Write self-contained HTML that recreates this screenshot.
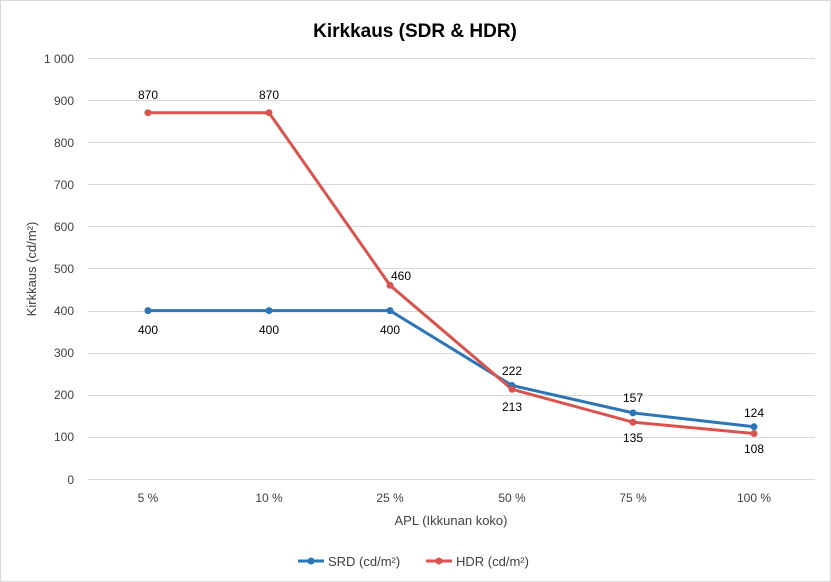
<!DOCTYPE html>
<html><head><meta charset="utf-8"><style>
html,body{margin:0;padding:0;background:#fff;}
svg{display:block;font-family:"Liberation Sans",sans-serif;}
</style></head><body>
<svg width="831" height="582" viewBox="0 0 831 582" xmlns="http://www.w3.org/2000/svg">
<rect x="0.5" y="0.5" width="830" height="581" fill="#fff" stroke="#d9d9d9"/>
<text x="415" y="37" text-anchor="middle" font-size="19" font-weight="bold" fill="#000">Kirkkaus (SDR &amp; HDR)</text>
<g stroke="#d9d9d9" stroke-width="1">
<line x1="88" x2="815" y1="58.5" y2="58.5"/>
<line x1="88" x2="815" y1="100.5" y2="100.5"/>
<line x1="88" x2="815" y1="142.5" y2="142.5"/>
<line x1="88" x2="815" y1="184.5" y2="184.5"/>
<line x1="88" x2="815" y1="226.5" y2="226.5"/>
<line x1="88" x2="815" y1="268.5" y2="268.5"/>
<line x1="88" x2="815" y1="311.5" y2="311.5"/>
<line x1="88" x2="815" y1="353.5" y2="353.5"/>
<line x1="88" x2="815" y1="395.5" y2="395.5"/>
<line x1="88" x2="815" y1="437.5" y2="437.5"/>
<line x1="88" x2="815" y1="479.5" y2="479.5"/>
</g>
<g font-size="12" fill="#404040" text-anchor="end">
<text x="74" y="63">1 000</text><text x="74" y="105">900</text><text x="74" y="147">800</text>
<text x="74" y="189">700</text><text x="74" y="231">600</text><text x="74" y="273">500</text>
<text x="74" y="315">400</text><text x="74" y="357">300</text><text x="74" y="399">200</text>
<text x="74" y="441">100</text><text x="74" y="484">0</text>
</g>
<g font-size="12" fill="#404040" text-anchor="middle">
<text x="148" y="502">5 %</text><text x="269" y="502">10 %</text><text x="390" y="502">25 %</text>
<text x="512" y="502">50 %</text><text x="633" y="502">75 %</text><text x="754" y="502">100 %</text>
</g>
<text x="451" y="525" text-anchor="middle" font-size="13" fill="#404040">APL (Ikkunan koko)</text>
<text transform="translate(36,269) rotate(-90)" text-anchor="middle" font-size="13" fill="#404040">Kirkkaus (cd/m²)</text>
<polyline fill="none" stroke="#2e75b6" stroke-width="3" points="148,310.6 269,310.6 390,310.6 512,385.5 633,412.9 754,426.8"/>
<polyline fill="none" stroke="#d9534f" stroke-width="3" points="148,112.7 269,112.7 390,285.3 512,389.3 633,422.2 754,433.5"/>
<g fill="#2e75b6">
<circle cx="148" cy="310.6" r="3.5"/><circle cx="269" cy="310.6" r="3.5"/><circle cx="390" cy="310.6" r="3.5"/>
<circle cx="512" cy="385.5" r="3.5"/><circle cx="633" cy="412.9" r="3.5"/><circle cx="754" cy="426.8" r="3.5"/>
</g>
<g fill="#d9534f">
<circle cx="148" cy="112.7" r="3.5"/><circle cx="269" cy="112.7" r="3.5"/><circle cx="390" cy="285.3" r="3.5"/>
<circle cx="512" cy="389.3" r="3.5"/><circle cx="633" cy="422.2" r="3.5"/><circle cx="754" cy="433.5" r="3.5"/>
</g>
<g font-size="12" fill="#000" text-anchor="middle">
<text x="148" y="99">870</text><text x="269" y="99">870</text><text x="401" y="280">460</text>
<text x="148" y="334">400</text><text x="269" y="334">400</text><text x="390" y="334">400</text>
<text x="512" y="375">222</text><text x="512" y="411">213</text>
<text x="633" y="402">157</text><text x="633" y="442">135</text>
<text x="754" y="417">124</text><text x="754" y="453">108</text>
</g>
<line x1="298" x2="324" y1="561" y2="561" stroke="#2e75b6" stroke-width="3"/>
<circle cx="311" cy="561" r="3.5" fill="#2e75b6"/>
<text x="328" y="566" font-size="13" fill="#404040">SRD (cd/m²)</text>
<line x1="426" x2="452" y1="561" y2="561" stroke="#d9534f" stroke-width="3"/>
<circle cx="439" cy="561" r="3.5" fill="#d9534f"/>
<text x="456" y="566" font-size="13" fill="#404040">HDR (cd/m²)</text>
</svg>
</body></html>
